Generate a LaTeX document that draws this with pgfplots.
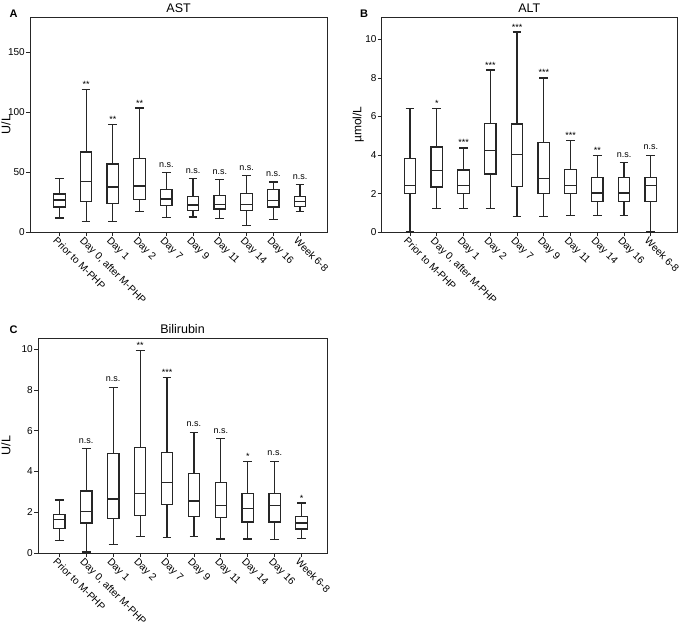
\documentclass[border=0pt]{standalone}
\usepackage{fontspec}
\setmainfont{Liberation Sans}
\usepackage{pgfplots}
\pgfplotsset{compat=1.18}
\usepgfplotslibrary{statistics}

\newcommand{\bx}[6]{\addplot[boxst, boxplot prepared={draw direction=y, draw position=#1, lower whisker=#2, lower quartile=#3, median=#4, upper quartile=#5, upper whisker=#6, box extend=0.43, whisker extend=0.33}] coordinates {};}

\pgfplotsset{
  boxst/.style={draw=black!85, solid, line width=1.15pt, fill=none, mark=none},
  panel/.style={
    scale only axis,
    anchor=south west,
    clip=false,
    axis line style={line width=0.8pt, black!85},
    tick style={line width=0.8pt, black!85},
    major tick length=4pt,
    tick align=outside,
    tick pos=left,
    xtick={1,...,10},
    xticklabels={Prior to M-PHP,{Day 0, after M-PHP},Day 1,Day 2,Day 7,Day 9,Day 11,Day 14,Day 16,Week 6-8},
    xticklabel style={rotate=-45, anchor=north west, inner sep=1pt, xshift=-2pt, font=\fontsize{10.2}{11}\selectfont},
    yticklabel style={inner sep=1pt, font=\fontsize{10}{11}\selectfont},
    /pgf/number format/assume math mode=true,
    every axis title/.style={at={(0.5,1)}, anchor=base, yshift=4.7pt, font=\fontsize{12.5}{13}\selectfont},
  },
  stars/.style={draw=none, mark=none, nodes near coords, point meta=explicit symbolic,
    nodes near coords style={anchor=base, yshift=2pt, inner sep=0pt, font=\fontsize{9}{9}\selectfont}},
  ns/.style={draw=none, mark=none, nodes near coords, point meta=explicit symbolic,
    nodes near coords style={anchor=base, yshift=5.3pt, inner sep=0pt, font=\fontsize{9}{9}\selectfont}},
}

\begin{document}
\begin{tikzpicture}[x=1pt,y=1pt]
\useasboundingbox (0,0) rectangle (685,627);

% ---------------- A: AST
\begin{axis}[panel, at={(30pt,395pt)}, width=297.3pt, height=215pt,
  xmin=-0.097, xmax=11.02, ymin=0, ymax=179.2, ytick={0,50,100,150},
  title={AST},
  ylabel={U/L},
  ylabel style={at={([xshift=-24pt]axis description cs:0,0.5)}, anchor=center, rotate=0, font=\fontsize{12.5}{12}\selectfont}]
\bx{1}{11.7}{20.8}{26.7}{31.7}{44.7}
\bx{2}{8.9}{25.3}{41.9}{66.7}{118.6}
\bx{3}{8.9}{23.6}{37.5}{56.7}{89.7}
\bx{4}{17.2}{26.9}{38.3}{61.1}{103.3}
\bx{5}{12.2}{21.9}{27.5}{35.6}{49.4}
\bx{6}{12.5}{18.1}{22.5}{29.7}{44.4}
\bx{7}{11.4}{19.2}{23.1}{30.6}{43.9}
\bx{8}{5.6}{18.1}{23.1}{31.9}{47.2}
\bx{9}{10.6}{20.8}{26.4}{35.3}{41.7}
\bx{10}{16.9}{21.1}{25.3}{29.7}{39.7}
\addplot[stars] table[meta=l] {
x y l
2 118.6 **
3 89.7 **
4 103.3 **
};
\addplot[ns] table[meta=l] {
x y l
5 49.4 n.s.
6 44.4 n.s.
7 43.9 n.s.
8 47.2 n.s.
9 41.7 n.s.
10 39.7 n.s.
};
\end{axis}

% ---------------- B: ALT
\begin{axis}[panel, at={(381.7pt,394.7pt)}, width=295.3pt, height=215.3pt,
  xmin=-0.06, xmax=10.98, ymin=0, ymax=11.16, ytick={0,2,4,6,8,10},
  title={ALT},
  ylabel={µmol/L},
  ylabel style={at={([xshift=-23.4pt]axis description cs:0,0.5)}, anchor=center, rotate=0, font=\fontsize{12}{12}\selectfont}]
\bx{1}{0.05}{2.0}{2.43}{3.82}{6.41}
\bx{2}{1.23}{2.35}{3.21}{4.42}{6.4}
\bx{3}{1.22}{2.0}{2.43}{3.23}{4.37}
\bx{4}{1.23}{3.02}{4.23}{5.63}{8.41}
\bx{5}{0.81}{2.38}{4.02}{5.61}{10.38}
\bx{6}{0.81}{2.0}{2.8}{4.65}{8.0}
\bx{7}{0.85}{2.0}{2.42}{3.25}{4.78}
\bx{8}{0.85}{1.6}{2.04}{2.85}{4.0}
\bx{9}{0.85}{1.6}{2.04}{2.85}{3.61}
\bx{10}{0.05}{1.6}{2.44}{2.82}{4.0}
\addplot[stars] table[meta=l] {
x y l
2 6.4 *
3 4.37 ***
4 8.41 ***
5 10.38 ***
6 8.0 ***
7 4.78 ***
8 4.0 **
};
\addplot[ns] table[meta=l] {
x y l
9 3.61 n.s.
10 4.0 n.s.
};
\end{axis}

% ---------------- C: Bilirubin
\begin{axis}[panel, at={(38pt,74pt)}, width=289pt, height=215pt,
  xmin=0.21, xmax=10.94, ymin=0, ymax=10.55, ytick={0,2,4,6,8,10},
  title={Bilirubin},
  ylabel={U/L},
  ylabel style={at={([xshift=-32pt]axis description cs:0,0.5)}, anchor=center, rotate=0, font=\fontsize{12.5}{12}\selectfont}]
\bx{1}{0.6}{1.21}{1.63}{1.91}{2.6}
\bx{2}{0.05}{1.47}{2.03}{3.04}{5.13}
\bx{3}{0.41}{1.7}{2.65}{4.9}{8.14}
\bx{4}{0.8}{1.86}{2.91}{5.18}{9.95}
\bx{5}{0.77}{2.37}{3.45}{4.92}{8.61}
\bx{6}{0.8}{1.8}{2.55}{3.91}{5.93}
\bx{7}{0.69}{1.73}{2.32}{3.45}{5.62}
\bx{8}{0.69}{1.52}{2.19}{2.91}{4.49}
\bx{9}{0.65}{1.52}{2.34}{2.91}{4.51}
\bx{10}{0.7}{1.18}{1.47}{1.78}{2.45}
\addplot[stars] table[meta=l] {
x y l
4 9.95 **
5 8.61 ***
8 4.49 *
10 2.45 *
};
\addplot[ns] table[meta=l] {
x y l
2 5.13 n.s.
3 8.14 n.s.
6 5.93 n.s.
7 5.62 n.s.
9 4.51 n.s.
};
\end{axis}

% panel letters
\node[font=\bfseries\fontsize{11}{11}\selectfont] at (13.5,613.5) {A};
\node[font=\bfseries\fontsize{11}{11}\selectfont] at (364,613.5) {B};
\node[font=\bfseries\fontsize{11}{11}\selectfont] at (13.7,297.5) {C};
\end{tikzpicture}
\end{document}
